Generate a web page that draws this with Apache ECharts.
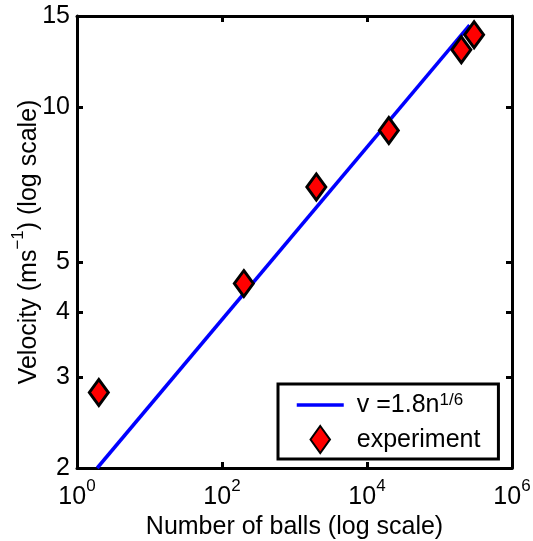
<!DOCTYPE html>
<html>
<head>
<meta charset="utf-8">
<script src="https://cdn.jsdelivr.net/npm/echarts@6/dist/echarts.min.js"></script>
<style>
  html, body { margin: 0; padding: 0; background: #fff; }
  #chart { width: 533px; height: 541px; }
</style>
</head>
<body>
<div id="chart"></div>
<script>
// measured points and fitted line v = 1.8 n^(1/6)
var ballCounts = [2, 200, 2000, 20000, 200000, 300000];
var velocities = [2.8, 4.55, 7.0, 9.0, 12.9, 13.8];
var fitN = [1.9, 260000];
var fitV = [2.0, 14.4];
var xTicks = [1, 100, 10000, 1000000];
var yTicks = [2, 3, 4, 5, 10, 15];

var FONT = 'Liberation Sans';

var chart = echarts.init(document.getElementById('chart'));

function pairs(xs, ys) {
    return xs.map(function (x, i) { return [x, ys[i]]; });
}

function powLabel(v) {
    var e = Math.round(Math.log(v) / Math.LN10);
    return '{b|10}{s|' + e + '}';
}

var axisLineStyle = { color: '#000', width: 3 };
var supRich = {
    b: { fontFamily: FONT, fontSize: 25, lineHeight: 32, color: '#000', verticalAlign: 'bottom' },
    s: { fontFamily: FONT, fontSize: 17, lineHeight: 17, color: '#000', verticalAlign: 'top' }
};
var legendRich = {
    b: { fontFamily: FONT, fontSize: 25, lineHeight: 26, color: '#000', verticalAlign: 'bottom' },
    s: { fontFamily: FONT, fontSize: 17, lineHeight: 14, color: '#000', verticalAlign: 'top' }
};

var option = {
    animation: false,
    grid: {
        left: 77,
        right: 21,
        top: 16,
        bottom: 73,
        containLabel: false,
        outerBoundsMode: 'none'
    },
    legend: {
        orient: 'vertical',
        left: 278,
        top: 384,
        padding: [8, 18, 5, 17],
        itemWidth: 47,
        itemHeight: 27,
        itemGap: 7,
        backgroundColor: '#fff',
        borderColor: '#000',
        borderWidth: 3,
        borderRadius: 0,
        data: [
            { name: 'fit', itemStyle: { opacity: 0 }, lineStyle: { color: '#0000ff', width: 3.5 } },
            { name: 'experiment', icon: 'path://M9,0 L18,12.5 L9,25 L0,12.5 Z' }
        ],
        formatter: function (name) {
            if (name === 'fit') return '{b|v =1.8n}{s|1/6}';
            return '{b|experiment}';
        },
        textStyle: {
            fontFamily: FONT,
            color: '#000',
            padding: [0, 0, 0, 8],
            rich: legendRich
        }
    },
    xAxis: [
        {
            type: 'log',
            logBase: 10,
            min: 1,
            max: 1000000,
            name: 'Number of balls (log scale)',
            nameLocation: 'middle',
            nameGap: 46,
            nameTextStyle: { fontFamily: FONT, fontSize: 25, color: '#000' },
            axisLine: { show: true, lineStyle: axisLineStyle },
            axisTick: { show: true, inside: true, length: 6, lineStyle: axisLineStyle, customValues: xTicks },
            axisLabel: {
                margin: 10,
                customValues: xTicks,
                formatter: powLabel,
                rich: supRich
            },
            splitLine: { show: false },
            minorTick: { show: false }
        },
        {
            type: 'log',
            logBase: 10,
            min: 1,
            max: 1000000,
            position: 'top',
            axisLine: { show: true, lineStyle: axisLineStyle },
            axisTick: { show: true, inside: true, length: 6, lineStyle: axisLineStyle, customValues: xTicks },
            axisLabel: { show: false },
            splitLine: { show: false }
        }
    ],
    yAxis: [
        {
            type: 'log',
            logBase: 10,
            min: 2,
            max: 15,
            name: '{b|Velocity (ms}{s|−1}{b|) (log scale)}',
            nameLocation: 'middle',
            nameRotate: 90,
            nameGap: 35,
            nameMoveOverlap: false,
            nameTextStyle: {
                fontFamily: FONT,
                fontSize: 25,
                color: '#000',
                rich: supRich
            },
            axisLine: { show: true, lineStyle: axisLineStyle },
            axisTick: { show: true, inside: true, length: 6, lineStyle: axisLineStyle, customValues: yTicks },
            axisLabel: {
                margin: 7,
                customValues: yTicks,
                fontFamily: FONT,
                fontSize: 25,
                color: '#000'
            },
            splitLine: { show: false },
            minorTick: { show: false }
        },
        {
            type: 'log',
            logBase: 10,
            min: 2,
            max: 15,
            position: 'right',
            axisLine: { show: true, lineStyle: axisLineStyle },
            axisTick: { show: true, inside: true, length: 6, lineStyle: axisLineStyle, customValues: yTicks },
            axisLabel: { show: false },
            splitLine: { show: false }
        }
    ],
    series: [
        {
            name: 'fit',
            type: 'line',
            xAxisIndex: 0,
            yAxisIndex: 0,
            data: pairs(fitN, fitV),
            symbol: 'none',
            showSymbol: false,
            lineStyle: { color: '#0000ff', width: 3.5 },
            itemStyle: { color: '#0000ff' },
            z: 2
        },
        {
            name: 'experiment',
            type: 'scatter',
            xAxisIndex: 0,
            yAxisIndex: 0,
            data: pairs(ballCounts, velocities),
            symbol: 'diamond',
            symbolSize: [19, 26],
            itemStyle: { color: '#ff0000', borderColor: '#000', borderWidth: 3, opacity: 1 },
            z: 3
        }
    ]
};

chart.setOption(option);
</script>
</body>
</html>
